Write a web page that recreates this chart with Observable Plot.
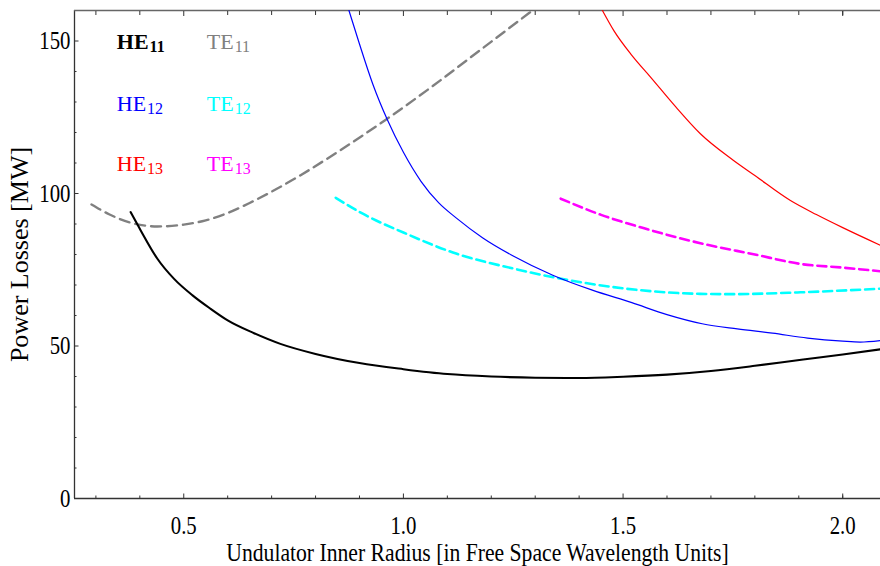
<!DOCTYPE html>
<html>
<head>
<meta charset="utf-8">
<script src="https://cdn.jsdelivr.net/npm/d3@7"></script>
<script src="https://cdn.jsdelivr.net/npm/@observablehq/plot@0.6"></script>
<style>
  html, body { margin: 0; padding: 0; background: #fff; }
  svg { display: block; }
</style>
</head>
<body>
<div id="chart"></div>
<script>
// Power losses versus undulator inner radius for the lowest waveguide modes.
const he11X = [0.379, 0.402, 0.44, 0.478, 0.52, 0.561, 0.60, 0.66, 0.72, 0.80, 0.90, 1.0, 1.1, 1.2, 1.3, 1.4, 1.5, 1.6, 1.7, 1.8, 1.91, 2.0, 2.086];
const he11Y = [93.9, 87.9, 78.6, 72.0, 66.6, 62.2, 58.4, 54.2, 50.7, 47.4, 44.4, 42.4, 40.8, 40.0, 39.6, 39.5, 39.9, 40.6, 41.8, 43.5, 45.6, 47.2, 48.9];

const te11X = [0.29, 0.33, 0.38, 0.44, 0.50, 0.55, 0.60, 0.65, 0.70, 0.766, 0.85, 0.96, 1.06, 1.16, 1.29];
const te11Y = [96.4, 93.2, 90.4, 89.2, 89.8, 91.2, 93.6, 96.9, 100.6, 106.0, 113.6, 124.2, 134.5, 145.4, 159.6];

const he12X = [0.876, 0.90, 0.93, 0.964, 1.0, 1.04, 1.08, 1.12, 1.18, 1.25, 1.34, 1.43, 1.52, 1.60, 1.68, 1.76, 1.84, 1.92, 2.0, 2.04, 2.086];
const he12Y = [160, 149, 136, 124, 113.5, 104, 97, 92, 85.5, 79.5, 73.2, 68.3, 64.2, 60.3, 57.3, 55.6, 54.2, 52.6, 51.6, 51.3, 51.8];

const te12X = [0.846, 0.903, 1.0, 1.12, 1.25, 1.38, 1.5, 1.676, 1.75, 1.904, 2.086];
const te12Y = [98.6, 93.7, 87.2, 80.3, 75.4, 71.5, 68.9, 67.1, 67.0, 67.6, 68.8];

const he13X = [1.453, 1.479, 1.52, 1.563, 1.62, 1.676, 1.75, 1.80, 1.881, 1.94, 2.0, 2.086];
const he13Y = [160, 153.4, 145.3, 138.1, 128.4, 119.6, 111.0, 105.9, 97.7, 93.1, 88.8, 83.0];

const te13X = [1.358, 1.45, 1.55, 1.676, 1.8, 1.904, 2.0, 2.086];
const te13Y = [98.3, 93.0, 88.5, 83.7, 80.0, 76.9, 75.7, 74.5];

// Mode names: family letters and subscript indices
const modeFamily = ["HE", "TE", "HE", "TE", "HE", "TE"];
const modeIndex = ["11", "11", "12", "12", "13", "13"];

// Axis ticks and titles
const xMajorTicks = [0.5, 1.0, 1.5, 2.0];
const xMinorTicks = [0.3, 0.4, 0.6, 0.7, 0.8, 0.9, 1.1, 1.2, 1.3, 1.4, 1.6, 1.7, 1.8, 1.9, 2.0];
const yMajorTicks = [0, 50, 100, 150];
const yMinorTicks = [10, 20, 30, 40, 60, 70, 80, 90, 110, 120, 130, 140];
const xTitle = "Undulator Inner Radius [in Free Space Wavelength Units]";
const yTitle = "Power Losses [MW]";

// Layout
const xDomain = [0.2513, 2.086];
const yDomain = [0, 160];
const legendCol = [0.3476, 0.5523, 0.3476, 0.5523, 0.3476, 0.5523];
const legendRow = [149.6, 149.6, 129.5, 129.5, 109.8, 109.8];
const modeColors = ["#000000", "#808080", "#0000ff", "#00ffff", "#ff0000", "#ff00ff"];

const zip = (xs, ys) => xs.map((x, i) => ({x, y: ys[i]}));
const legendRows = modeFamily.map((family, i) => ({
  family, index: modeIndex[i], x: legendCol[i], y: legendRow[i], color: modeColors[i], bold: i === 0
}));
const boldRows = legendRows.filter(d => d.bold);
const plainRows = legendRows.filter(d => !d.bold);

const font = "Liberation Serif, Times New Roman, serif";
const axisColor = "#333";

const plot = Plot.plot({
  width: 880,
  height: 566,
  marginLeft: 74,
  marginRight: 0,
  marginTop: 10,
  marginBottom: 68,
  style: {fontFamily: font, fontSize: "26px", background: "#fff", color: "#000"},
  x: {domain: xDomain},
  y: {domain: yDomain},
  marks: [
    // frame: left, bottom, top
    Plot.ruleX([xDomain[0]], {stroke: axisColor, strokeWidth: 1.3}),
    Plot.ruleY([yDomain[0]], {stroke: axisColor, strokeWidth: 1.3}),
    Plot.ruleY([yDomain[1]], {stroke: "#666", strokeWidth: 1.4}),

    // inward ticks
    Plot.axisX({anchor: "bottom", ticks: xMajorTicks, tickSize: -4.5, tickFormat: () => "", label: null, stroke: axisColor}),
    Plot.axisX({anchor: "bottom", ticks: xMinorTicks, tickSize: -2.5, tickFormat: () => "", label: null, stroke: axisColor}),
    Plot.axisX({anchor: "top", ticks: xMajorTicks, tickSize: -5, tickFormat: () => "", label: null, stroke: axisColor}),
    Plot.axisX({anchor: "top", ticks: xMinorTicks, tickSize: -4, tickFormat: () => "", label: null, stroke: axisColor}),
    Plot.axisY({anchor: "left", ticks: yMajorTicks, tickSize: -4.5, tickFormat: () => "", label: null, stroke: axisColor}),
    Plot.axisY({anchor: "left", ticks: yMinorTicks, tickSize: -2.5, tickFormat: () => "", label: null, stroke: axisColor}),

    // tick labels
    Plot.axisX({anchor: "bottom", ticks: xMajorTicks, tickSize: 0, tickPadding: 17, tickFormat: d3.format(".1f"), label: null, fontSize: 26}),
    Plot.axisY({anchor: "left", ticks: yMajorTicks, tickSize: 0, tickPadding: 4, tickFormat: d3.format("d"), label: null, fontSize: 26}),

    // axis titles
    Plot.text([xTitle], {frameAnchor: "bottom", text: d => d, textAnchor: "middle", lineAnchor: "middle", dy: 54, fontSize: 26}),
    Plot.text([yTitle], {frameAnchor: "left", text: d => d, textAnchor: "middle", lineAnchor: "middle", rotate: -90, dx: -55, fontSize: 26}),

    // mode curves
    Plot.line(zip(te11X, te11Y), {x: "x", y: "y", stroke: modeColors[1], strokeWidth: 2.4, strokeDasharray: "10,6", curve: "monotone-x", clip: true}),
    Plot.line(zip(te12X, te12Y), {x: "x", y: "y", stroke: modeColors[3], strokeWidth: 2.6, strokeDasharray: "9,5", curve: "monotone-x", clip: true}),
    Plot.line(zip(te13X, te13Y), {x: "x", y: "y", stroke: modeColors[5], strokeWidth: 2.6, strokeDasharray: "9,5", curve: "monotone-x", clip: true}),
    Plot.line(zip(he12X, he12Y), {x: "x", y: "y", stroke: modeColors[2], strokeWidth: 1.2, curve: "monotone-x", clip: true}),
    Plot.line(zip(he13X, he13Y), {x: "x", y: "y", stroke: modeColors[4], strokeWidth: 1.2, curve: "monotone-x", clip: true}),
    Plot.line(zip(he11X, he11Y), {x: "x", y: "y", stroke: modeColors[0], strokeWidth: 2.1, curve: "monotone-x", clip: true}),

    // mode labels (the fundamental mode in bold), family letters then subscripts
    Plot.text(boldRows, {x: "x", y: "y", text: "family", fill: "color", textAnchor: "start", fontSize: 22, fontWeight: "bold"}),
    Plot.text(plainRows, {x: "x", y: "y", text: "family", fill: "color", textAnchor: "start", fontSize: 22}),
    Plot.text(boldRows, {x: "x", y: "y", text: "index", fill: "color", textAnchor: "start", fontSize: 16, fontWeight: "bold", dy: 5}),
    Plot.text(plainRows, {x: "x", y: "y", text: "index", fill: "color", textAnchor: "start", fontSize: 16, dy: 5})
  ]
});

document.getElementById("chart").append(plot);

// Drop the blank labels of the tick-only axes
plot.querySelectorAll("text").forEach(t => {
  if (t.textContent === "") t.remove();
});

const texts = Array.from(plot.querySelectorAll("text"));
const families = texts.filter(t => modeFamily.includes(t.textContent));
const indices = texts.filter(t => modeIndex.includes(t.textContent) && !families.includes(t));

// Put each subscript right after its family letters
families.forEach((t, i) => {
  const s = indices[i];
  if (!s) return;
  const shift = t.getComputedTextLength() + 1;
  const prev = s.getAttribute("transform") || "";
  s.setAttribute("transform", `translate(${shift.toFixed(1)},0) ${prev}`.trim());
});

// Narrow serif lettering for the tick labels and the horizontal title
texts.forEach(t => {
  if (t.textContent === yTitle || families.includes(t) || indices.includes(t)) return;
  const w = t.getComputedTextLength();
  const k = t.textContent === xTitle ? 0.833 : 0.8;
  if (w > 0) {
    t.setAttribute("textLength", (w * k).toFixed(1));
    t.setAttribute("lengthAdjust", "spacingAndGlyphs");
  }
});
</script>
</body>
</html>
